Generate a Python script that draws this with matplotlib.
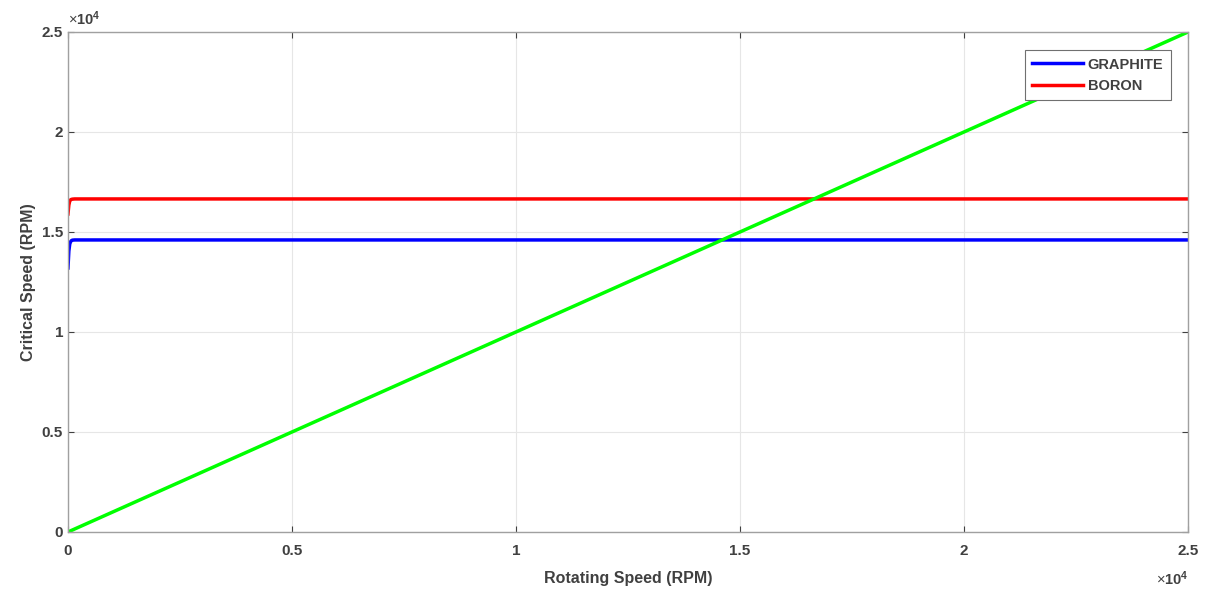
import matplotlib.pyplot as plt
from matplotlib.ticker import FuncFormatter
import numpy as np

# rotating speed samples (RPM)
rot_speed = [0, 20, 40, 60, 80, 100, 150, 200, 25000]
# critical speed curves (RPM)
crit_graphite = [13200, 14050, 14400, 14520, 14570, 14590, 14600, 14600, 14600]
crit_boron = [15900, 16350, 16550, 16610, 16630, 16640, 16650, 16650, 16650]
# reference line (critical = rotating)
ref_x = [0, 25000]
ref_y = [0, 25000]

plt.rcParams['font.family'] = ['Liberation Sans', 'DejaVu Sans']
plt.rcParams['mathtext.fontset'] = 'custom'
plt.rcParams['mathtext.rm'] = 'Liberation Sans'
plt.rcParams['mathtext.bf'] = 'Liberation Sans:bold'

txt_col = '#404040'

fig = plt.figure(figsize=(12.05, 5.89), dpi=100)
ax = fig.add_axes([0.0564, 0.0968, 0.9296, 0.849])

ax.plot(rot_speed, crit_graphite, color='#0000ff', lw=2.5, label='GRAPHITE')
ax.plot(rot_speed, crit_boron, color='#ff0000', lw=2.5, label='BORON')
ax.plot(ref_x, ref_y, color='#00ff00', lw=2.5)

ax.set_xlim(0, 25000)
ax.set_ylim(0, 25000)
ax.set_xticks(np.arange(0, 25001, 5000))
ax.set_yticks(np.arange(0, 25001, 5000))
fmt = FuncFormatter(lambda v, p: '%g' % (v / 1e4))
ax.xaxis.set_major_formatter(fmt)
ax.yaxis.set_major_formatter(fmt)

ax.grid(True, color='#e6e6e6', lw=0.8)
ax.set_axisbelow(True)
for s in ax.spines.values():
    s.set_color('#a0a0a0')
    s.set_linewidth(1.0)
ax.tick_params(colors=txt_col, labelsize=11, length=4, direction='in', width=0.8,
               top=True, right=True)
ax.tick_params(axis='x', pad=9)
for t in ax.get_xticklabels() + ax.get_yticklabels():
    t.set_fontweight('bold')

# exponent labels
ax.text(0.0, 1.008, r'$\times\mathbf{10^{4}}$', transform=ax.transAxes, fontsize=10.5,
        color=txt_col, ha='left', va='bottom')
ax.text(1.0, -0.075, r'$\times\mathbf{10^{4}}$', transform=ax.transAxes, fontsize=10.5,
        color=txt_col, ha='right', va='top')

ax.set_xlabel('Rotating Speed (RPM)', fontsize=11.5, fontweight='bold', color=txt_col, labelpad=9)
ax.set_ylabel('Critical Speed (RPM)', fontsize=11.5, fontweight='bold', color=txt_col, labelpad=4)

leg = ax.legend(loc='upper right', bbox_to_anchor=(0.991, 0.978), fontsize=10.5, frameon=True,
                fancybox=False, edgecolor='#707070', framealpha=1, handlelength=3.5,
                borderpad=0.5, labelspacing=0.5, handletextpad=0.3)
leg.get_frame().set_linewidth(0.8)
for t in leg.get_texts():
    t.set_color(txt_col)
    t.set_fontweight('bold')

fig.savefig('out.png', dpi=100)
